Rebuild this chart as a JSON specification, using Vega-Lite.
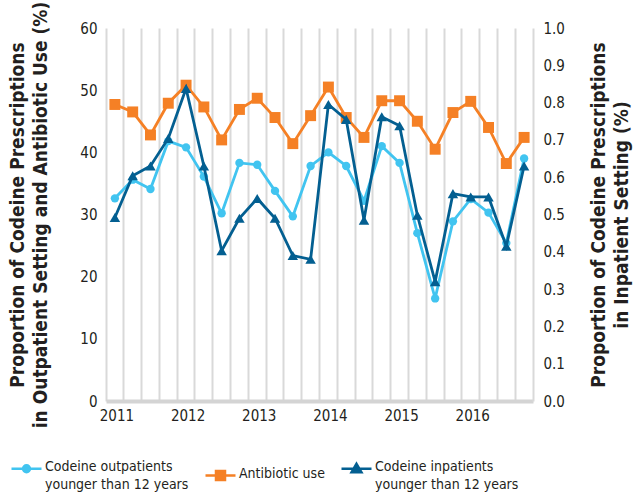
{
  "$schema": "https://vega.github.io/schema/vega-lite/v6.json",
  "width": 427,
  "height": 373,
  "autosize": "none",
  "padding": {"left": 106, "top": 28, "right": 100, "bottom": 97},
  "background": "white",
  "config": {
    "font": "DejaVu Sans Condensed",
    "view": {"stroke": null},
    "axis": {"labelFont": "DejaVu Sans Condensed", "titleFont": "DejaVu Sans Condensed", "labelColor": "#231f20", "titleColor": "#231f20"},
    "legend": {"labelFont": "DejaVu Sans Condensed"}
  },
  "datasets": {
    "abx": [
      {"q": "2011 Q1", "s": "Antibiotic use", "v": 47.7},
      {"q": "2011 Q2", "s": "Antibiotic use", "v": 46.5},
      {"q": "2011 Q3", "s": "Antibiotic use", "v": 42.8},
      {"q": "2011 Q4", "s": "Antibiotic use", "v": 47.9},
      {"q": "2012 Q1", "s": "Antibiotic use", "v": 50.8},
      {"q": "2012 Q2", "s": "Antibiotic use", "v": 47.3},
      {"q": "2012 Q3", "s": "Antibiotic use", "v": 42.0},
      {"q": "2012 Q4", "s": "Antibiotic use", "v": 46.9},
      {"q": "2013 Q1", "s": "Antibiotic use", "v": 48.7},
      {"q": "2013 Q2", "s": "Antibiotic use", "v": 45.6},
      {"q": "2013 Q3", "s": "Antibiotic use", "v": 41.4},
      {"q": "2013 Q4", "s": "Antibiotic use", "v": 45.9},
      {"q": "2014 Q1", "s": "Antibiotic use", "v": 50.5},
      {"q": "2014 Q2", "s": "Antibiotic use", "v": 45.6},
      {"q": "2014 Q3", "s": "Antibiotic use", "v": 42.4},
      {"q": "2014 Q4", "s": "Antibiotic use", "v": 48.3},
      {"q": "2015 Q1", "s": "Antibiotic use", "v": 48.3},
      {"q": "2015 Q2", "s": "Antibiotic use", "v": 45.0},
      {"q": "2015 Q3", "s": "Antibiotic use", "v": 40.5},
      {"q": "2015 Q4", "s": "Antibiotic use", "v": 46.4},
      {"q": "2016 Q1", "s": "Antibiotic use", "v": 48.2},
      {"q": "2016 Q2", "s": "Antibiotic use", "v": 44.0},
      {"q": "2016 Q3", "s": "Antibiotic use", "v": 38.2},
      {"q": "2016 Q4", "s": "Antibiotic use", "v": 42.4}
    ],
    "outp": [
      {"q": "2011 Q1", "s": "Codeine outpatients younger than 12 years", "v": 32.6},
      {"q": "2011 Q2", "s": "Codeine outpatients younger than 12 years", "v": 35.6},
      {"q": "2011 Q3", "s": "Codeine outpatients younger than 12 years", "v": 34.1},
      {"q": "2011 Q4", "s": "Codeine outpatients younger than 12 years", "v": 41.8},
      {"q": "2012 Q1", "s": "Codeine outpatients younger than 12 years", "v": 40.8},
      {"q": "2012 Q2", "s": "Codeine outpatients younger than 12 years", "v": 36.1},
      {"q": "2012 Q3", "s": "Codeine outpatients younger than 12 years", "v": 30.2},
      {"q": "2012 Q4", "s": "Codeine outpatients younger than 12 years", "v": 38.3},
      {"q": "2013 Q1", "s": "Codeine outpatients younger than 12 years", "v": 38.0},
      {"q": "2013 Q2", "s": "Codeine outpatients younger than 12 years", "v": 33.8},
      {"q": "2013 Q3", "s": "Codeine outpatients younger than 12 years", "v": 29.7},
      {"q": "2013 Q4", "s": "Codeine outpatients younger than 12 years", "v": 37.8},
      {"q": "2014 Q1", "s": "Codeine outpatients younger than 12 years", "v": 40.0},
      {"q": "2014 Q2", "s": "Codeine outpatients younger than 12 years", "v": 37.8},
      {"q": "2014 Q3", "s": "Codeine outpatients younger than 12 years", "v": 32.2},
      {"q": "2014 Q4", "s": "Codeine outpatients younger than 12 years", "v": 41.0},
      {"q": "2015 Q1", "s": "Codeine outpatients younger than 12 years", "v": 38.3},
      {"q": "2015 Q2", "s": "Codeine outpatients younger than 12 years", "v": 27.0},
      {"q": "2015 Q3", "s": "Codeine outpatients younger than 12 years", "v": 16.5},
      {"q": "2015 Q4", "s": "Codeine outpatients younger than 12 years", "v": 28.9},
      {"q": "2016 Q1", "s": "Codeine outpatients younger than 12 years", "v": 32.5},
      {"q": "2016 Q2", "s": "Codeine outpatients younger than 12 years", "v": 30.3},
      {"q": "2016 Q3", "s": "Codeine outpatients younger than 12 years", "v": 25.4},
      {"q": "2016 Q4", "s": "Codeine outpatients younger than 12 years", "v": 39.0}
    ],
    "inp": [
      {"q": "2011 Q1", "s": "Codeine inpatients younger than 12 years", "v": 0.492},
      {"q": "2011 Q2", "s": "Codeine inpatients younger than 12 years", "v": 0.604},
      {"q": "2011 Q3", "s": "Codeine inpatients younger than 12 years", "v": 0.630},
      {"q": "2011 Q4", "s": "Codeine inpatients younger than 12 years", "v": 0.704},
      {"q": "2012 Q1", "s": "Codeine inpatients younger than 12 years", "v": 0.838},
      {"q": "2012 Q2", "s": "Codeine inpatients younger than 12 years", "v": 0.630},
      {"q": "2012 Q3", "s": "Codeine inpatients younger than 12 years", "v": 0.403},
      {"q": "2012 Q4", "s": "Codeine inpatients younger than 12 years", "v": 0.490},
      {"q": "2013 Q1", "s": "Codeine inpatients younger than 12 years", "v": 0.543},
      {"q": "2013 Q2", "s": "Codeine inpatients younger than 12 years", "v": 0.490},
      {"q": "2013 Q3", "s": "Codeine inpatients younger than 12 years", "v": 0.390},
      {"q": "2013 Q4", "s": "Codeine inpatients younger than 12 years", "v": 0.380},
      {"q": "2014 Q1", "s": "Codeine inpatients younger than 12 years", "v": 0.795},
      {"q": "2014 Q2", "s": "Codeine inpatients younger than 12 years", "v": 0.755},
      {"q": "2014 Q3", "s": "Codeine inpatients younger than 12 years", "v": 0.485},
      {"q": "2014 Q4", "s": "Codeine inpatients younger than 12 years", "v": 0.762},
      {"q": "2015 Q1", "s": "Codeine inpatients younger than 12 years", "v": 0.738},
      {"q": "2015 Q2", "s": "Codeine inpatients younger than 12 years", "v": 0.498},
      {"q": "2015 Q3", "s": "Codeine inpatients younger than 12 years", "v": 0.320},
      {"q": "2015 Q4", "s": "Codeine inpatients younger than 12 years", "v": 0.556},
      {"q": "2016 Q1", "s": "Codeine inpatients younger than 12 years", "v": 0.547},
      {"q": "2016 Q2", "s": "Codeine inpatients younger than 12 years", "v": 0.547},
      {"q": "2016 Q3", "s": "Codeine inpatients younger than 12 years", "v": 0.415},
      {"q": "2016 Q4", "s": "Codeine inpatients younger than 12 years", "v": 0.630}
    ]
  },
  "encoding": {
    "x": {
      "field": "q", "type": "ordinal", "sort": null,
      "scale": {"type": "band", "paddingInner": 0, "paddingOuter": 0},
      "axis": {
        "title": null, "bandPosition": 0, "grid": true, "gridColor": "#d9d9d9", "gridWidth": 2,
        "ticks": false, "domainColor": "#d4d4d4", "domainWidth": 4, "labelAngle": 0,
        "labelFontSize": 15, "labelPadding": 7, "labelOffset": 2,
        "labelExpr": "indexof(datum.value, 'Q1') >= 0 ? slice(datum.value, 0, 4) : ''"
      }
    },
    "color": {
      "field": "s", "type": "nominal",
      "scale": {
        "domain": ["Codeine outpatients younger than 12 years", "Antibiotic use", "Codeine inpatients younger than 12 years"],
        "range": ["#41c4f0", "#f58025", "#035f91"]
      },
      "legend": {
        "orient": "none", "legendX": -96, "legendY": 424, "direction": "horizontal", "columns": 3,
        "title": null, "symbolSize": 900, "symbolStrokeWidth": 2.5, "labelFontSize": 14, "labelColor": "#231f20",
        "labelOffset": 2, "columnPadding": 11, "labelLimit": 300, "labelBaseline": "top",
        "labelExpr": "datum.label == 'Antibiotic use' ? 'Antibiotic use\u00a0\u00a0\u00a0\u00a0\u00a0' : split(replace(datum.label, ' younger', '|younger'), '|')",
        "encode": {
          "symbols": {"update": {
            "shape": {"signal": "datum.value == 'Antibiotic use' ? 'M-1,0H1M-0.3,-0.3H0.3V0.3H-0.3Z' : datum.value == 'Codeine outpatients younger than 12 years' ? 'M-1,0H1M0.23,0A0.23,0.23,0,1,1,-0.23,0A0.23,0.23,0,1,1,0.23,0Z' : 'M-1,0H1M0,-0.33L0.33,0.24L-0.33,0.24Z'"},
            "fill": {"scale": "color", "field": "value"},
            "stroke": {"scale": "color", "field": "value"},
            "strokeWidth": {"value": 2.5},
            "opacity": {"value": 1}
          }},
          "labels": {"update": {"dy": {"value": -9}, "lineHeight": {"value": 18}}}
        }
      }
    }
  },
  "layer": [
    {
      "encoding": {
        "y": {
          "field": "v", "type": "quantitative", "scale": {"domain": [0, 60]},
          "axis": {
            "orient": "left", "values": [0, 10, 20, 30, 40, 50, 60], "grid": false, "domain": false, "ticks": false,
            "labelFontSize": 15, "labelPadding": 9,
            "title": ["Proportion of Codeine Prescriptions", "in Outpatient Setting and Antibiotic Use (%)"],
            "titleFontSize": 19, "titleFontWeight": "bold", "titlePadding": 29, "titleLineHeight": 23
          }
        }
      },
      "layer": [
        {"data": {"name": "abx"}, "mark": {"type": "line", "strokeWidth": 2.8}},
        {"data": {"name": "abx"}, "mark": {"type": "point", "filled": true, "opacity": 1, "shape": "square", "size": 120}},
        {"data": {"name": "outp"}, "mark": {"type": "line", "strokeWidth": 2.8}},
        {"data": {"name": "outp"}, "mark": {"type": "point", "filled": true, "opacity": 1, "shape": "circle", "size": 70}}
      ]
    },
    {
      "data": {"name": "inp"},
      "encoding": {
        "y": {
          "field": "v", "type": "quantitative", "scale": {"domain": [0, 1]},
          "axis": {
            "orient": "right", "values": [0, 0.1, 0.2, 0.3, 0.4, 0.5, 0.6, 0.7, 0.8, 0.9, 1.0], "format": ".1f",
            "grid": false, "domain": true, "domainColor": "#d9d9d9", "domainWidth": 2, "ticks": false, "labelFontSize": 15, "labelPadding": 10,
            "title": ["Proportion of Codeine Prescriptions", "in Inpatient Setting (%)"],
            "titleFontSize": 19, "titleFontWeight": "bold", "titlePadding": 2, "titleLineHeight": 23,
            "titleAngle": 270, "titleBaseline": "top"
          }
        }
      },
      "layer": [
        {"mark": {"type": "line", "strokeWidth": 2.8}},
        {"mark": {"type": "point", "filled": true, "opacity": 1, "shape": "triangle-up", "size": 110}}
      ]
    }
  ],
  "resolve": {"scale": {"y": "independent"}}
}
